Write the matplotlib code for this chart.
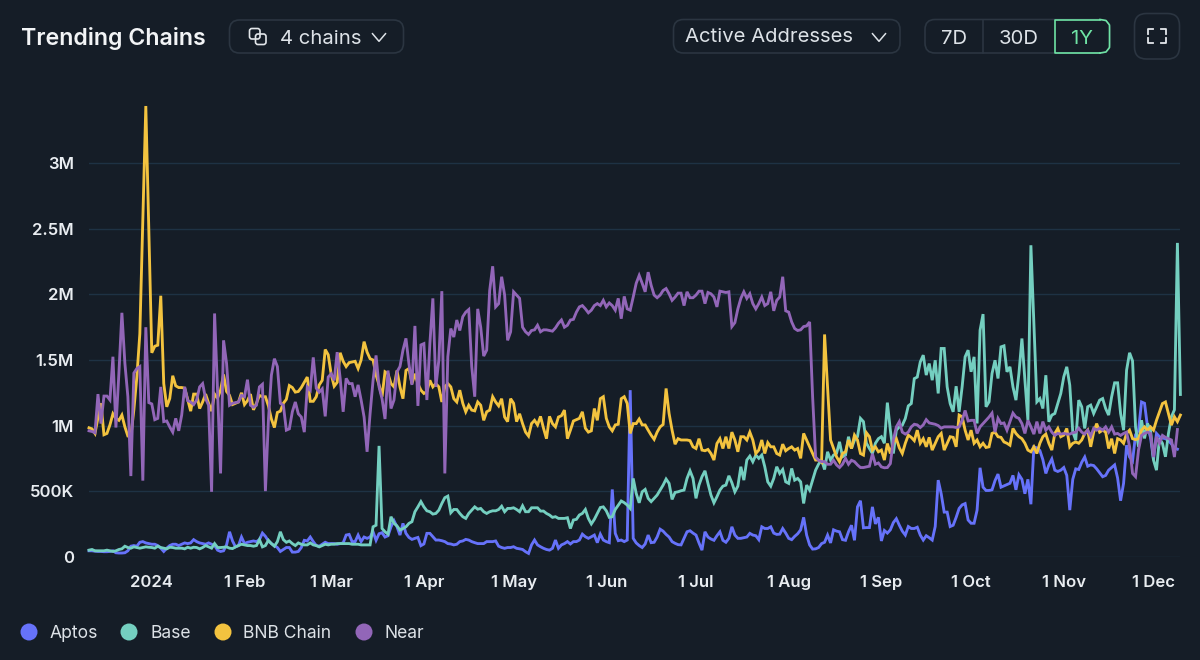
import matplotlib
matplotlib.use("Agg")
import matplotlib.pyplot as plt
import matplotlib.dates as mdates
from matplotlib.patches import FancyBboxPatch, Circle
import pandas as pd

plt.rcParams['font.family'] = ['Inter', 'DejaVu Sans']

START = "2023-12-11"

aptos = [
45,45,42,40,40,38,38,40,45,30, 28,28,30,45,80,85,80,110,115,105,
100,95,95,85,65,40,65,85,95,95, 85,95,105,100,105,130,115,105,100,95,
105,95,85,50,40,45,90,190,120,75, 85,150,100,110,115,120,115,130,180,155,
120,100,85,70,40,55,70,70,35,35, 40,70,125,120,150,115,85,80,95,110,
100,100,100,95,100,105,165,170,115,115, 165,115,150,140,150,190,125,175,183,150,
160,228,275,228,165,254,178,147,132,140, 147,84,97,178,178,152,127,127,122,115,
100,97,90,95,115,120,132,127,115,107, 100,100,100,115,115,115,120,80,70,64,
70,70,76,64,60,55,38,25,90,127, 90,76,64,55,50,64,127,64,90,100,
115,97,115,115,127,172,152,140,152,165, 107,172,127,115,107,513,178,122,127,115,
127,1270,140,105,85,70,97,165,107,110, 150,210,195,170,150,115,102,92,90,140,
190,198,180,165,105,50,190,150,135,125, 160,190,125,110,140,228,165,140,140,145,
150,178,165,160,130,228,215,215,228,180, 170,172,215,180,140,130,155,175,205,300,
165,90,58,60,70,100,110,165,105,205, 195,190,130,125,190,240,125,380,427,220,
222,222,380,250,300,120,200,180,205,260, 290,240,195,165,230,215,215,225,165,127,
160,145,127,230,584,480,340,340,230,240, 300,368,395,405,280,255,255,355,678,530,
505,505,510,580,630,530,540,550,560,620, 510,625,590,480,590,400,838,830,810,740,
635,700,745,660,650,660,680,620,355,590, 670,665,720,760,690,700,695,670,640,610,
620,660,680,700,600,427,560,850,760,730, 930,965,1180,1170,990,910,740,940,915,905,
900,885,860,830,820]

base = [
50,55,45,45,45,45,50,45,40,45, 55,60,80,70,65,75,70,65,70,75,
72,70,65,80,70,65,60,72,70,65, 65,65,60,72,65,72,70,60,70,85,
75,65,100,70,70,72,75,65,62,75, 85,95,90,85,85,80,85,130,75,85,
125,100,80,115,190,130,110,120,100,85, 105,95,90,90,105,90,85,75,85,95,
90,95,95,100,100,100,100,100,95,95, 95,90,90,90,90,228,240,845,215,190,
172,305,255,235,203,215,228,254,267,343, 380,420,380,350,343,325,330,355,406,450,
462,335,360,360,330,305,292,330,355,380, 362,368,343,330,343,350,350,360,385,343,
368,368,373,360,343,388,343,343,373,373, 373,348,348,330,318,300,305,292,292,292,
297,215,280,285,318,330,360,292,250,285, 330,375,380,350,300,305,360,392,425,412,
394,368,597,483,411,495,513,445,420,445, 470,508,546,592,559,437,490,495,503,508,
597,655,597,445,546,610,655,559,470,411, 457,508,538,546,617,564,495,538,686,584,
737,767,724,775,750,775,686,571,538,597, 686,635,665,571,559,673,584,597,571,406,
546,508,584,660,706,737,665,800,737,775, 788,876,762,775,915,825,889,915,1055,1030,
865,825,787,865,900,915,865,1175,965,787, 965,990,1003,1054,1150,1168,1358,1370,1485,1537,
1385,1473,1346,1498,1245,1588,1588,1295,1168,1105, 1300,1105,1295,1524,1575,1410,1524,1016,1727,1850,
1143,1181,1397,1498,1359,1600,1608,1410,1448,1295, 1194,1397,1664,1346,1041,2375,1778,1181,1206,1130,
1384,1029,1080,1092,1168,1245,1372,1448,1308,952, 889,1194,1143,978,1143,1156,1092,1143,1194,1206,
1130,1080,1219,1326,1326,1092,965,1422,1555,1493, 990,838,1041,902,1016,965,737,660,902,864,
762,940,1067,1120,2393,1237]

bnb = [
983,975,940,1060,1170,930,940,1005,1090,1055, 1040,1080,990,920,915,1120,1370,1700,2570,3437,
2500,1555,1605,1613,1990,1320,1143,1206,1380,1303, 1290,1290,1285,1200,1110,1240,1240,1130,1180,1240,
1170,1110,1240,1210,1270,1390,1260,1230,1160,1170, 1180,1250,1160,1190,1240,1120,1170,1230,1220,1220,
1150,1050,985,1100,1110,1170,1200,1305,1290,1255, 1260,1290,1330,1370,1185,1185,1220,1310,1345,1580,
1540,1390,1300,1330,1555,1490,1450,1480,1485,1490, 1435,1500,1640,1560,1510,1500,1385,1310,1220,1410,
1395,1320,1295,1420,1295,1205,1420,1435,1320,1395, 1320,1270,1245,1260,1345,1295,1320,1295,1180,1295,
1320,1295,1205,1180,1270,1170,1105,1155,1118,1112, 1180,1155,1040,1105,1118,1220,1180,1150,1205,1065,
1030,1205,1170,1030,1090,1015,950,920,1015,1040, 1005,1070,980,900,1070,1015,990,1065,1075,1118,
900,965,1035,1045,1055,1105,980,950,960,1130, 1040,1205,1220,1055,990,960,1005,1010,1205,1220,
1168,940,1015,1015,1050,1005,1005,965,927,895, 950,990,1008,1283,1092,965,858,900,890,890,
890,885,838,825,900,813,808,818,787,737, 863,900,825,915,825,950,890,800,915,915,
890,950,890,787,813,890,787,870,838,838, 787,775,858,808,825,838,813,825,750,940,
890,838,787,737,737,720,1695,1295,890,825, 762,724,787,800,890,825,927,890,787,775,
945,915,813,838,800,813,737,863,787,870, 900,830,787,865,927,910,885,965,865,900,
838,910,813,865,915,940,813,865,915,910, 838,1080,1067,965,890,965,865,890,838,865,
833,838,940,950,915,910,875,865,850,978, 940,915,900,865,813,800,838,787,865,915,
935,865,813,940,978,915,927,978,838,865, 875,865,890,940,965,838,950,1015,950,965,
950,825,900,787,900,890,865,940,965,900, 893,900,965,990,965,990,965,1040,1105,1168,
1180,1090,1003,1067,1030,1080]

near = [
960,955,945,1240,1015,1225,1225,1195,1525,985, 1400,1860,1475,1220,615,1400,1435,1450,580,1750,
1175,1165,1045,1055,1295,1030,1035,990,950,1055, 960,1080,1295,1190,1180,1160,1195,1295,1320,1205,
1155,495,1855,1260,635,1650,1475,1155,1170,1175, 1180,1230,1220,1350,1155,1140,1155,1295,1315,500,
1040,1385,1510,1450,1170,1155,965,975,1105,1180, 1090,1065,950,1295,1270,1520,1285,1255,1280,1070,
1370,1395,1345,1560,1360,1105,1360,1320,1320,1220, 1310,1195,1065,800,1090,1345,1535,1295,1205,1050,
1420,1130,1195,1410,1450,1575,1665,1470,1310,1760, 1150,1615,1625,1195,1625,1970,1295,1500,2025,635,
1525,1740,1675,1805,1725,1830,1865,1885,1450,1220, 1890,1750,1530,1575,2030,2215,1905,1930,2135,1995,
1650,1715,2020,1995,1970,1750,1715,1695,1725,1730, 1765,1715,1730,1730,1725,1720,1745,1780,1805,1750,
1765,1805,1810,1865,1905,1915,1890,1860,1880,1915, 1930,1915,1955,1905,1935,1915,1880,1970,1815,1985,
1890,1880,1980,2085,2145,2085,2020,2170,2070,1995, 1975,1995,2030,2045,2005,1955,1980,2010,2010,1915,
2020,1975,1975,1995,2025,2025,1930,2015,2005,1980, 1905,2025,2020,2015,2020,1755,1785,1890,1970,2020,
1970,2005,1930,1890,1930,1980,1915,1930,2020,1875, 1955,1980,2135,1875,1865,1790,1740,1725,1730,1755,
1760,1790,1220,760,735,725,725,705,705,735, 700,680,705,750,705,735,725,700,680,680,
685,690,785,705,715,685,678,680,710,890, 990,1030,950,935,950,990,1010,1005,985,1005,
1045,1020,1015,1010,1000,980,990,990,990,990, 985,990,1040,1115,1035,1040,1040,940,990,1015,
1040,1065,1095,950,1055,1015,1020,965,1030,1095, 1065,1055,1015,940,1040,990,935,1030,940,1030,
965,990,950,925,940,935,940,935,935,945, 950,980,950,935,965,920,980,965,980,965,
990,950,990,935,940,925,940,950,840,635, 610,815,925,940,950,940,760,915,865,925,
910,900,890,760,970]

series_names = ["Aptos", "Base", "BNB Chain", "Near"]
series_values = [aptos, base, bnb, near]
series_colors = ["#6672FA", "#74CFC0", "#F3C33F", "#9266B8"]
y_ticks = [0, 500, 1000, 1500, 2000, 2500, 3000]
y_labels = ["0", "500K", "1M", "1.5M", "2M", "2.5M", "3M"]
x_tick_dates = ["2024-01-01", "2024-02-01", "2024-03-01", "2024-04-01", "2024-05-01", "2024-06-01",
                "2024-07-01", "2024-08-01", "2024-09-01", "2024-10-01", "2024-11-01", "2024-12-01"]
x_labels = ["2024", "1 Feb", "1 Mar", "1 Apr", "1 May", "1 Jun", "1 Jul", "1 Aug", "1 Sep", "1 Oct", "1 Nov", "1 Dec"]

BG = "#151D27"
GRID = "#1E3244"
BORDER = "#2B3541"
TEXT = "#E9EDF1"

W, H = 1200, 660
fig = plt.figure(figsize=(W / 100, H / 100), dpi=100, facecolor=BG)

# plot axes: pixels 89..1180 wide, 100..556.7 high
ax = fig.add_axes([89 / W, 1 - 556.7 / H, (1180.4 - 89) / W, (556.7 - 100) / H], facecolor=BG)
for vals, c in zip(series_values, series_colors):
    dates = pd.date_range(START, periods=len(vals), freq="D")
    ax.plot(dates, vals, color=c, lw=2.05, solid_joinstyle="miter", clip_on=False)

t0 = mdates.date2num(pd.Timestamp(START))
ax.set_xlim(t0, t0 + 365)
ax.set_ylim(0, (556.7 - 100) / 131.13 * 1000)
ax.set_yticks(y_ticks, y_labels)
ax.set_xticks([mdates.date2num(pd.Timestamp(d)) for d in x_tick_dates], x_labels)
ax.tick_params(axis="both", length=0, labelcolor=TEXT, labelsize=12)
ax.tick_params(axis="y", pad=11)
ax.tick_params(axis="x", pad=13)
for lab in ax.get_xticklabels() + ax.get_yticklabels():
    lab.set_fontweight(600)
ax.grid(axis="y", color=GRID, lw=1.0)
ax.set_axisbelow(True)
for s in ax.spines.values():
    s.set_visible(False)

# interface layer in pixel coordinates
ui = fig.add_axes([0, 0, 1, 1], facecolor="none")
ui.set_xlim(0, W)
ui.set_ylim(H, 0)
ui.axis("off")


def pill(x0, y0, x1, y1, r, ec=BORDER, lw=1.2):
    ui.add_patch(FancyBboxPatch((x0 + r, y0 + r), x1 - x0 - 2 * r, y1 - y0 - 2 * r,
                                boxstyle=f"round,pad={r},rounding_size={r}", fc="none", ec=ec, lw=lw))


def chevron(cx, cy, w=6.5, h=3.8, c="#DDE2E7"):
    ui.plot([cx - w, cx, cx + w], [cy - h, cy + h, cy - h], color=c, lw=1.1)


ui.text(21, 38, "Trending Chains", color="#F2F4F6", fontsize=16.7, fontweight=600, va="center", ha="left")

pill(229.5, 20, 403.5, 53, 10)
ui.add_patch(FancyBboxPatch((249.5, 28.5), 10.5, 10.5, boxstyle="round,pad=0,rounding_size=2.5", fc="none", ec="#E2E6EA", lw=1.2))
ui.add_patch(FancyBboxPatch((255.5, 34), 10.5, 10.5, boxstyle="round,pad=0,rounding_size=2.5", fc="none", ec="#E2E6EA", lw=1.2))
ui.text(280, 39, "4 chains", color="#DDE2E7", fontsize=14.6, va="center", ha="left")
chevron(379, 37.5)

pill(673.5, 19.5, 900, 53, 10)
ui.text(685, 37, "Active Addresses", color="#DDE2E7", fontsize=14.6, va="center", ha="left")
chevron(879, 37.5)

pill(925, 19.5, 1110, 53, 10)
ui.plot([983, 983], [19.5, 53], color=BORDER, lw=1.2)
ui.text(954, 38.5, "7D", color="#DDE2E7", fontsize=14.6, va="center", ha="center")
ui.text(1019, 38.5, "30D", color="#DDE2E7", fontsize=14.6, va="center", ha="center")
ui.plot([1100, 1055, 1055, 1100], [19.5, 19.5, 53, 53], color="#6FE3A5", lw=1.2)
ui.plot([1100, 1106, 1109.5, 1109.5, 1106, 1100], [19.5, 20.5, 25, 47.5, 52, 53], color="#6FE3A5", lw=1.2)
ui.text(1082, 38.5, "1Y", color="#6FE3A5", fontsize=14.6, va="center", ha="center")

pill(1134.5, 13.5, 1179.5, 59, 12)
for (x0, y0, dx, dy) in [(1148, 29, 1, 1), (1166, 29, -1, 1), (1148, 43, 1, -1), (1166, 43, -1, -1)]:
    ui.plot([x0, x0, x0 + 5 * dx], [y0 + 5 * dy, y0, y0], color="#E2E6EA", lw=1.3)

# legend
legend_dot_x = [29, 129, 223, 364]
legend_text_x = [50, 151, 243, 385]
for name, c, dx, tx in zip(series_names, series_colors, legend_dot_x, legend_text_x):
    ui.add_patch(Circle((dx, 632), 8.5, fc=c, ec="none"))
    ui.text(tx, 634, name, color="#DDE2E7", fontsize=12.6, va="center", ha="left")

fig.savefig("out.png", dpi=100, facecolor=BG)
